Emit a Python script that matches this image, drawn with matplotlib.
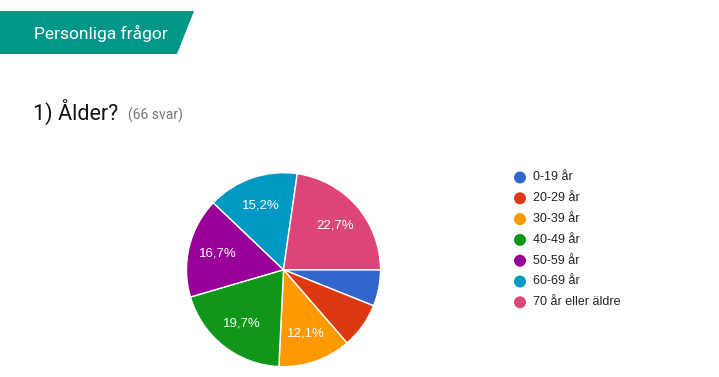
import matplotlib.pyplot as plt
from matplotlib.patches import Polygon, Circle

# data
categories = ["0-19 år", "20-29 år", "30-39 år", "40-49 år", "50-59 år", "60-69 år", "70 år eller äldre"]
counts = [4, 5, 8, 13, 11, 10, 15]
colors = ["#3366cc", "#dc3912", "#ff9900", "#109618", "#990099", "#0099c6", "#dd4477"]

W, H = 719, 377

def Y(py):
    # pixel row (from top) -> data y
    return H - py

fig = plt.figure(figsize=(W / 100, H / 100), dpi=100, facecolor="white")
ax = fig.add_axes([0, 0, 1, 1])

# section banner
ax.add_patch(Polygon([(0, Y(11)), (194, Y(11)), (177, Y(54)), (0, Y(54))],
                     closed=True, fc="#009688", ec="none"))
ax.text(34, Y(33), "Personliga frågor", color="white", fontsize=12.5,
        family="Roboto", va="center", ha="left")

# question title
ax.text(33, Y(120), "1) Ålder?", color="#111111", fontsize=15.5,
        family="Roboto", va="baseline", ha="left")
ax.text(128, Y(120), "(66 svar)", color="#757575", fontsize=10,
        family="Roboto", va="baseline", ha="left")

# pie
wedges, texts, autotexts = ax.pie(
    counts, colors=colors, center=(283.5, Y(269.7)), radius=97,
    startangle=0, counterclock=False,
    autopct=lambda p: ("%.1f%%" % p).replace(".", ",") if p > 10 else "",
    pctdistance=0.7, wedgeprops=dict(edgecolor="white", linewidth=1),
    textprops=dict(color="white", fontsize=9.5, family="Liberation Sans"))

# legend
for i, (cat, col) in enumerate(zip(categories, colors)):
    cy = 177.5 + i * 20.8
    ax.add_patch(Circle((520, Y(cy)), 6, fc=col, ec="none"))
    ax.text(533, Y(cy), cat, color="#222222", fontsize=9,
            family="Liberation Sans", va="center", ha="left")

ax.set_xlim(0, W)
ax.set_ylim(0, H)
ax.set_aspect("auto")
ax.axis("off")

fig.savefig("out.png", dpi=100, facecolor="white")
